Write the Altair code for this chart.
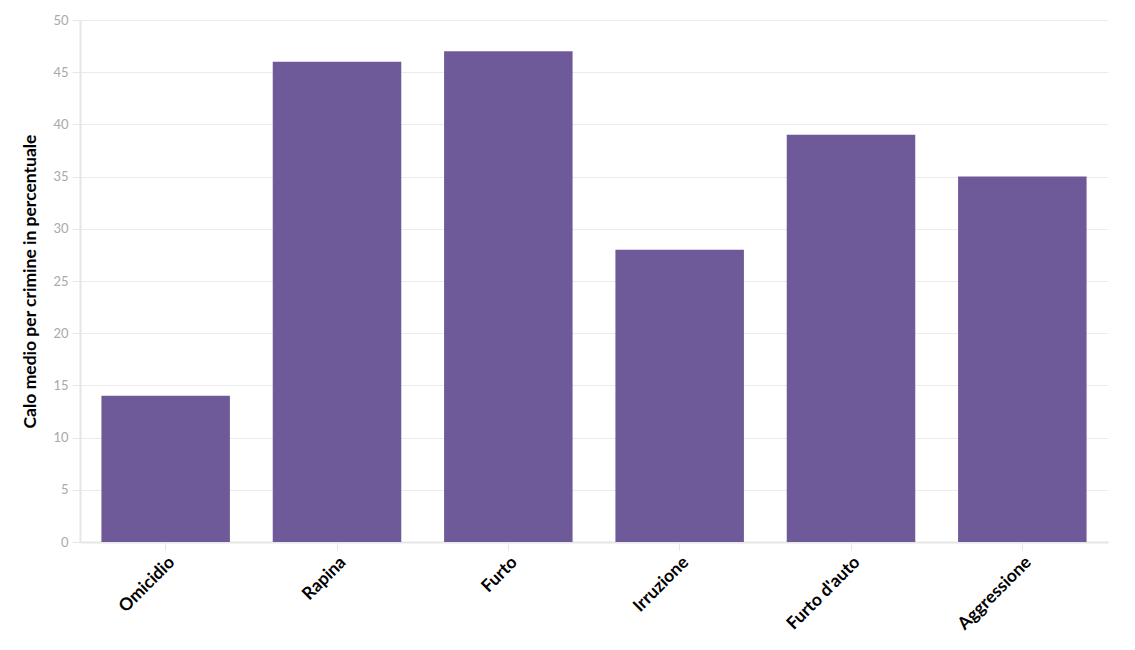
import altair as alt
import pandas as pd

categories = ["Omicidio", "Rapina", "Furto", "Irruzione", "Furto d'auto", "Aggressione"]
values = [14, 46, 47, 28, 39, 35]

df = pd.DataFrame({"crimine": categories, "calo": values})

FONT = "Lato"

chart = alt.Chart(df).mark_bar(color="#6E5A99").encode(
    x=alt.X(
        "crimine:N",
        sort=categories,
        title=None,
        scale=alt.Scale(paddingInner=0.25, paddingOuter=0.125),
        axis=alt.Axis(
            labelAngle=-45,
            labelFont=FONT,
            labelFontSize=17.5,
            labelFontWeight="bold",
            labelColor="#000000",
            labelPadding=3,
            domainColor="#e6e6e6",
            domainWidth=2,
            tickColor="#e6e6e6",
            tickSize=8,
            grid=False,
        ),
    ),
    y=alt.Y(
        "calo:Q",
        title="Calo medio per crimine in percentuale",
        scale=alt.Scale(domain=[0, 50]),
        axis=alt.Axis(
            values=[0, 5, 10, 15, 20, 25, 30, 35, 40, 45, 50],
            labelFont=FONT,
            labelFontSize=13,
            labelColor="#a9a9a9",
            labelPadding=4,
            titleFont=FONT,
            titleFontSize=17.5,
            titleFontWeight="bold",
            titleColor="#000000",
            titlePadding=13,
            domainColor="#e6e6e6",
            domainWidth=2,
            tickColor="#e6e6e6",
            tickSize=8,
            gridColor="#ebebeb",
        ),
    ),
).properties(
    width=1028,
    height=522,
    autosize=alt.AutoSizeParams(type="none"),
    padding={"left": 72, "top": 12, "right": 19, "bottom": 100},
).configure_view(stroke=None)

chart.save("out.html", embed_options={"renderer": "svg", "actions": False})
